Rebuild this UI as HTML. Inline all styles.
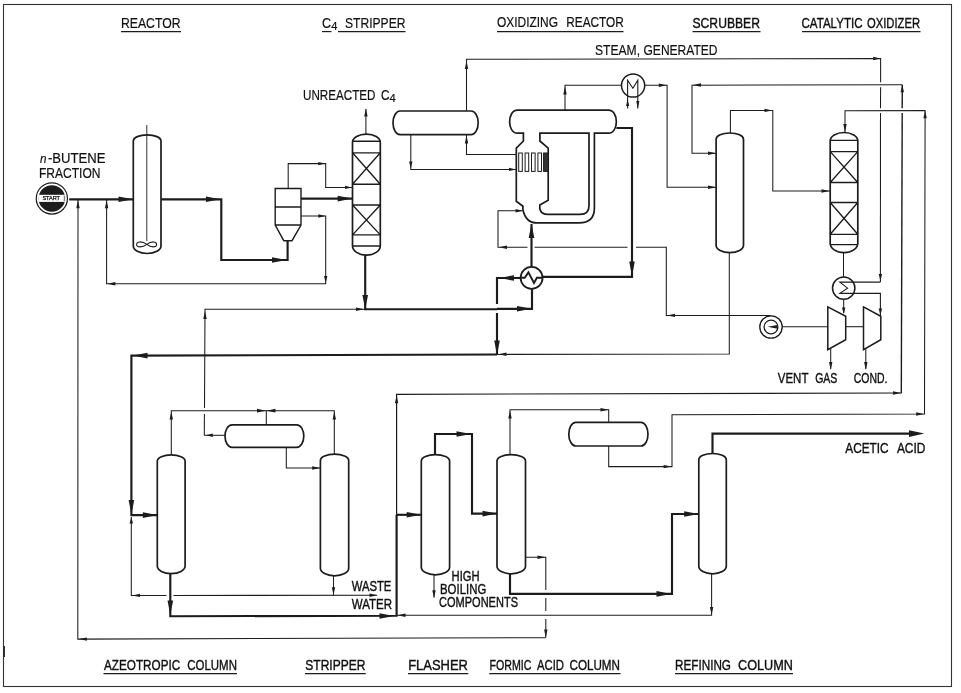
<!DOCTYPE html>
<html lang="en">
<head>
<meta charset="utf-8">
<title>Acetic acid process flow diagram</title>
<style>
html,body{margin:0;padding:0;background:#fff;}
svg{display:block;will-change:transform;filter:grayscale(1);}
svg path,svg circle,svg rect,svg line{stroke:#1c1c1c;fill:none;stroke-linecap:butt;stroke-linejoin:miter;}
svg .ah{fill:#1c1c1c;stroke:none;}
svg .fw{fill:#fff;}
svg .fwn{fill:#fff;stroke:none;}
svg text.b{stroke-width:0.4px;}
svg .fk{fill:#1c1c1c;stroke:none;}
svg .fk2{fill:#333;}
svg text{font-family:"Liberation Sans",sans-serif;fill:#111;stroke:#111;stroke-width:0.2px;}
</style>
</head>
<body>
<svg width="961" height="693" viewBox="0 0 961 693">
<rect x="0" y="0" width="961" height="693" style="fill:#fff;stroke:none"/>
<rect x="3.5" y="4.5" width="948" height="682" style="fill:none;stroke:#333;stroke-width:1.1"/>
<path d="M4.3 646 L4.3 657" stroke-width="1.2"/>
<text x="121" y="28" font-size="14.7" textLength="59.5" lengthAdjust="spacingAndGlyphs" >REACTOR</text>
<path d="M121 31.6 L181 31.6" stroke-width="1.15"/>
<text font-size="14.7"><tspan x="322" y="28" textLength="9" lengthAdjust="spacingAndGlyphs">C</tspan><tspan x="331.2" y="30.2" font-size="11.7" textLength="6.2" lengthAdjust="spacingAndGlyphs">4</tspan> <tspan x="345" y="28" textLength="60.5" lengthAdjust="spacingAndGlyphs">STRIPPER</tspan></text>
<path d="M322 31.6 L331.5 31.6" stroke-width="1.15"/>
<path d="M338 31.6 L405.5 31.6" stroke-width="1.15"/>
<text font-size="14.7"><tspan x="497" y="27.3" textLength="61" lengthAdjust="spacingAndGlyphs">OXIDIZING</tspan> <tspan x="566.3" y="27.3" textLength="57.5" lengthAdjust="spacingAndGlyphs">REACTOR</tspan></text>
<path d="M497 31.6 L623.5 31.6" stroke-width="1.15"/>
<text class="b" x="692.5" y="27.6" font-size="14.7" textLength="67.5" lengthAdjust="spacingAndGlyphs" >SCRUBBER</text>
<path d="M692.5 31.6 L760.5 31.6" stroke-width="1.15"/>
<text class="b" font-size="14.7"><tspan x="801.5" y="27.6" textLength="61" lengthAdjust="spacingAndGlyphs">CATALYTIC</tspan> <tspan x="867" y="27.6" textLength="53" lengthAdjust="spacingAndGlyphs">OXIDIZER</tspan></text>
<path d="M802 31.6 L920.5 31.6" stroke-width="1.15"/>
<text font-size="14.7"><tspan x="595" y="55" textLength="45" lengthAdjust="spacingAndGlyphs">STEAM,</tspan> <tspan x="643.5" y="55" textLength="74" lengthAdjust="spacingAndGlyphs">GENERATED</tspan></text>
<text font-size="14.7"><tspan x="303" y="100" textLength="72.5" lengthAdjust="spacingAndGlyphs">UNREACTED</tspan> <tspan x="381" y="100" textLength="8.5" lengthAdjust="spacingAndGlyphs">C</tspan><tspan x="389.6" y="102.2" font-size="11.7" textLength="6.2" lengthAdjust="spacingAndGlyphs">4</tspan></text>
<text font-size="14.7"><tspan x="40" y="162.5" font-style="italic" font-size="12" textLength="6.5" lengthAdjust="spacingAndGlyphs">n</tspan><tspan x="48" y="162.5" textLength="57.5" lengthAdjust="spacingAndGlyphs">-BUTENE</tspan> <tspan x="39" y="177.6" textLength="61.5" lengthAdjust="spacingAndGlyphs">FRACTION</tspan></text>
<text class="b" font-size="14.7"><tspan x="777.8" y="382.6" textLength="30.4" lengthAdjust="spacingAndGlyphs">VENT</tspan> <tspan x="815.2" y="382.6" textLength="22.2" lengthAdjust="spacingAndGlyphs">GAS</tspan></text>
<text class="b" x="853.8" y="382.6" font-size="14.7" textLength="33.6" lengthAdjust="spacingAndGlyphs" >COND.</text>
<text class="b" font-size="15.2"><tspan x="845.3" y="453.3" textLength="43.3" lengthAdjust="spacingAndGlyphs">ACETIC</tspan> <tspan x="896.9" y="453.3" textLength="28.5" lengthAdjust="spacingAndGlyphs">ACID</tspan></text>
<text class="b" font-size="14.7"><tspan x="351.7" y="591.3" textLength="39.7" lengthAdjust="spacingAndGlyphs">WASTE</tspan> <tspan x="351.7" y="609.4" textLength="40.3" lengthAdjust="spacingAndGlyphs">WATER</tspan></text>
<text class="b" font-size="14.7"><tspan x="451.6" y="581.3" textLength="28" lengthAdjust="spacingAndGlyphs">HIGH</tspan> <tspan x="440" y="594.3" textLength="46.3" lengthAdjust="spacingAndGlyphs">BOILING</tspan> <tspan x="439" y="607" textLength="79" lengthAdjust="spacingAndGlyphs">COMPONENTS</tspan></text>
<text class="b" font-size="14.7"><tspan x="104" y="669.7" textLength="76.2" lengthAdjust="spacingAndGlyphs">AZEOTROPIC</tspan> <tspan x="187.3" y="669.7" textLength="49.6" lengthAdjust="spacingAndGlyphs">COLUMN</tspan></text>
<path d="M103.5 673.6 L237 673.6" stroke-width="1.15"/>
<text class="b" x="305.3" y="669.7" font-size="14.7" textLength="60.2" lengthAdjust="spacingAndGlyphs" >STRIPPER</text>
<path d="M305 673.6 L365.8 673.6" stroke-width="1.15"/>
<text class="b" x="408.2" y="669.7" font-size="14.7" textLength="59.8" lengthAdjust="spacingAndGlyphs" >FLASHER</text>
<path d="M408 673.6 L468.3 673.6" stroke-width="1.15"/>
<text class="b" font-size="14.7"><tspan x="489.5" y="669.7" textLength="42" lengthAdjust="spacingAndGlyphs">FORMIC</tspan> <tspan x="537" y="669.7" textLength="27" lengthAdjust="spacingAndGlyphs">ACID</tspan> <tspan x="569.5" y="669.7" textLength="50.5" lengthAdjust="spacingAndGlyphs">COLUMN</tspan></text>
<path d="M489.3 673.6 L620.5 673.6" stroke-width="1.15"/>
<text class="b" font-size="14.7"><tspan x="675" y="669.7" textLength="56" lengthAdjust="spacingAndGlyphs">REFINING</tspan> <tspan x="738" y="669.7" textLength="54.8" lengthAdjust="spacingAndGlyphs">COLUMN</tspan></text>
<path d="M675 673.6 L793 673.6" stroke-width="1.15"/>
<circle cx="51.85" cy="198.45" r="15.6" class="fw" stroke-width="1.2"/>
<circle cx="51.85" cy="198.45" r="13.3" class="fk"/>
<rect x="38.4" y="194.8" width="26.9" height="7.1" class="fwn"/>
<path d="M64.3 195.6 L64.3 201.2" stroke-width="0.7"/>
<text x="42.4" y="200.45" font-size="5.6" textLength="17.6" lengthAdjust="spacing" style="stroke-width:0.25px">START</text>
<path d="M133.3 141 A13.85 6.2 0 0 1 161 141 L161 246 A13.85 7.5 0 0 1 133.3 246 Z" stroke-width="1.7" class="fw"/>
<path d="M146.8 125 L146.8 241" stroke-width="0.9" />
<path d="M146.8 244.4 C142.5 241 136.6 241.2 136.6 244.4 C136.6 247.6 142.5 247.8 146.8 244.4 C151.1 241 156.6 241.2 156.6 244.4 C156.6 247.6 151.1 247.8 146.8 244.4 Z" stroke-width="1.1"/>
<path d="M69.2 199.3 L133.3 199.3" stroke-width="2.15" />
<polygon class="ah" points="133,199.3 118.5,196.5 118.5,202.1"/>
<path d="M161.2 199.3 L221.3 199.3 L221.3 260 L287.6 260 L287.6 240.7" stroke-width="2.15" />
<polygon class="ah" points="220.5,199.3 206,196.5 206,202.1"/>
<polygon class="ah" points="286.5,260 272,257.2 272,262.8"/>
<path d="M78 199.3 L77.8 639.1 L545.8 637.7" stroke-width="1.05" />
<polygon class="ah" points="78,200.3 76.3,208.3 79.7,208.3"/>
<polygon class="ah" points="78.8,639.1 86.8,637.4 86.8,640.8"/>
<path d="M106.6 199.3 L106.6 283.8 L325.7 283.8 L325.7 216 L301 216" stroke-width="1.05" />
<polygon class="ah" points="106.6,200.3 104.9,208.3 108.3,208.3"/>
<polygon class="ah" points="107.3,283.8 115.3,282.1 115.3,285.5"/>
<polygon class="ah" points="325.7,283 324,276 327.4,276"/>
<polygon class="ah" points="325.3,216 318.3,214.3 318.3,217.7"/>
<path d="M275.2 188.5 L301 188.5 L301 225 L292 240.7 L283.8 240.7 L275.2 225 Z M275.2 207 L301 207 M275.2 225 L301 225" stroke-width="1.4" class="fw"/>
<path d="M288.2 188.5 L288.2 163.6 L325.7 163.6 L325.7 187.4 L352.4 187.4" stroke-width="1.05" />
<polygon class="ah" points="325.3,163.6 318.3,161.9 318.3,165.3"/>
<polygon class="ah" points="352,187.4 345,185.7 345,189.1"/>
<path d="M301 198.6 L352.4 198.6" stroke-width="2.15" />
<polygon class="ah" points="352.2,198.6 337.7,195.8 337.7,201.4"/>
<path d="M352.5 142.3 A13.9 8.2 0 0 1 380.3 142.3 L380.3 245.7 A13.9 9.5 0 0 1 352.5 245.7 Z" stroke-width="1.7" class="fw"/>
<path d="M352.5 141.2 L380.3 141.2 M352.5 152.8 L380.3 152.8 M352.5 184.2 L380.3 184.2 M352.5 205 L380.3 205 M352.5 234.9 L380.3 234.9 M352.5 246 L380.3 246 M352.5 152.8 L380.3 184.2 M380.3 152.8 L352.5 184.2 M352.5 205 L380.3 234.9 M380.3 205 L352.5 234.9 " stroke-width="1.35"/>
<path d="M365.9 134.1 L365.9 109" stroke-width="1.05" />
<polygon class="ah" points="365.9,108.5 364.2,116.5 367.6,116.5"/>
<path d="M365.2 255.2 L365.2 309.2" stroke-width="2.15" />
<polygon class="ah" points="365.2,309.5 362.4,295 368,295"/>
<path d="M204.3 435.3 L204.4 414" stroke-width="1.05" />
<path d="M204.5 408 L205 309.2 L365 309.2" stroke-width="1.05" />
<polygon class="ah" points="205,311 203.3,319 206.7,319"/>
<polygon class="ah" points="364,309.2 356,307.5 356,310.9"/>
<path d="M364 309.2 L497 309.2" stroke-width="2.15" />
<path d="M497 308.8 L532 308.8 L532 289.2" stroke-width="2.15" />
<polygon class="ah" points="531.5,308.8 517,306 517,311.6"/>
<path d="M225 435.3 L204.3 435.3" stroke-width="1.05" />
<polygon class="ah" points="205.8,435.3 212.8,433.6 212.8,437"/>
<path d="M400 111 L471.2 111 A7 11.8 0 0 1 471.2 134.6 L400 134.6 A7 11.8 0 0 1 400 111 Z" stroke-width="1.7" class="fw"/>
<path d="M466.5 111 L466.5 59.3 L880.6 58.5 L880.6 82.3" stroke-width="1.05" />
<path d="M880.6 87.3 L880.5 108.3" stroke-width="1.05" />
<path d="M880.5 113 L880.4 282.1" stroke-width="1.05" />
<polygon class="ah" points="466.5,61 464.8,69 468.2,69"/>
<polygon class="ah" points="880.2,58.5 873.2,56.8 873.2,60.2"/>
<polygon class="ah" points="880.4,281 878.7,274 882.1,274"/>
<path d="M410.8 134.6 L410.8 169.4 L516 169.4" stroke-width="1.05" />
<polygon class="ah" points="410.8,168.5 409.1,161.5 412.5,161.5"/>
<polygon class="ah" points="516,169.4 509,167.7 509,171.1"/>
<path d="M516 154.4 L466.5 154.4 L466.5 134.6" stroke-width="1.05" />
<polygon class="ah" points="466.5,135.5 464.8,143.5 468.2,143.5"/>
<path d="M517.5 110.1 L608.4 110.1 C619 110.1 619 133.2 608.4 133.2 L594.4 133.2 L594.4 208 C594.4 218 589 222.9 579 222.9 L537 222.9 C529 222.9 524.5 217 522.9 209.7 L522.9 206.2 L516.3 201.3 L516.3 148.2 L523.4 141 L523.4 133.2 L517.5 133.2 C507 133.2 507 110.1 517.5 110.1 Z" stroke-width="1.7" class="fw"/>
<path d="M539.9 133.2 L589 133.2 L589 206 C589 211.5 586 214.4 580 214.4 L548 214.4 C543.5 214.4 540.5 212 539.8 208.7 L539.8 205 L548.2 200.3 L548.2 148.2 L539.9 141 Z" stroke-width="1.7" class="fw"/>
<rect x="518.7" y="153" width="3.6" height="18.4" stroke-width="1" class="fw"/>
<rect x="525.1" y="153" width="3.6" height="18.4" stroke-width="1" class="fw"/>
<rect x="531.5" y="153" width="3.6" height="18.4" stroke-width="1" class="fw"/>
<rect x="537.9" y="153" width="3.6" height="18.4" stroke-width="1" class="fw"/>
<rect x="543.6" y="153" width="4.8" height="18.4" stroke-width="1" class="fk2"/>
<path d="M565 110.1 L565 85.2 L621.6 85.2" stroke-width="1.05" />
<polygon class="ah" points="565,86.5 563.3,94.5 566.7,94.5"/>
<circle cx="633.1" cy="85.5" r="11.6" stroke-width="1.5" class="fw"/>
<path d="M627.6 108.4 L627.6 80.3 L632.9 88.2 L637.8 80.3 L637.8 108.4" stroke-width="1.1" />
<polygon class="ah" points="627.6,99.5 626,106 629.2,106"/>
<polygon class="ah" points="637.8,108.6 636.2,101.1 639.4,101.1"/>
<path d="M644.7 85.2 L667.1 85.2 L667.1 187.2 L716.2 187.2" stroke-width="1.05" />
<polygon class="ah" points="666.8,85.2 658.8,83.5 658.8,86.9"/>
<polygon class="ah" points="716,187.2 708,185.5 708,188.9"/>
<path d="M616.4 128 L632 128 L632 276.8 L543 276.8" stroke-width="2.15" />
<polygon class="ah" points="632,276 629.2,261.5 634.8,261.5"/>
<path d="M522.4 210.8 L498 210.8 L498 247.3 L527.5 247.3" stroke-width="1.05" />
<path d="M534.5 247.3 L627.5 247.3" stroke-width="1.05" />
<path d="M636 247.3 L666.3 247.3 L666.3 315.4 L771 315.4" stroke-width="1.05" />
<polygon class="ah" points="522.6,210.8 515.6,209.1 515.6,212.5"/>
<polygon class="ah" points="499,247.3 507,245.6 507,249"/>
<polygon class="ah" points="667,315.4 675,313.7 675,317.1"/>
<path d="M531.5 266.8 L531.5 224" stroke-width="2.15" />
<polygon class="ah" points="531.5,223.6 528.7,238.1 534.3,238.1"/>
<circle cx="531.6" cy="277.8" r="11" stroke-width="1.8" class="fw"/>
<path d="M520.7 277.8 L524.7 277.8 L528.4 272.4 L534 283 L536.9 277.8 L542.6 277.8" stroke-width="1.9" />
<path d="M520.5 278 L497 278 L497 304" stroke-width="2.15" />
<path d="M497 313 L497 354.3" stroke-width="2.15" />
<polygon class="ah" points="499.5,278 514,275.2 514,280.8"/>
<polygon class="ah" points="497,355 494.2,340.5 499.8,340.5"/>
<path d="M716.1 139.2 A13.7 6.2 0 0 1 743.5 139.2 L743.5 245.2 A13.7 7.5 0 0 1 716.1 245.2 Z" stroke-width="1.7" class="fw"/>
<path d="M730.4 133 L730.4 110.4 L772.8 110.4 L772.8 191 L830.2 191" stroke-width="1.05" />
<polygon class="ah" points="772.5,110.4 764.5,108.7 764.5,112.1"/>
<polygon class="ah" points="829.5,191 821.5,189.3 821.5,192.7"/>
<path d="M716.2 153.3 L692 153.3 L692 85.2 L902.3 84.8" stroke-width="1.05" />
<polygon class="ah" points="716,153.3 708,151.6 708,155"/>
<polygon class="ah" points="693,85 701,83.3 701,86.7"/>
<path d="M729.3 252.7 L729.3 354 L497 354.4" stroke-width="1.05" />
<polygon class="ah" points="498.5,354.3 506.5,352.6 506.5,356"/>
<path d="M497 354.5 L131.4 355.6 L131.4 515.1 L157.4 515.1" stroke-width="2.15" />
<polygon class="ah" points="133,355.6 147.5,352.8 147.5,358.4"/>
<polygon class="ah" points="131.4,514.6 128.6,500.1 134.2,500.1"/>
<polygon class="ah" points="157.3,515.1 142.8,512.3 142.8,517.9"/>
<path d="M830.2 140.7 A13.8 8.2 0 0 1 857.8 140.7 L857.8 243.2 A13.8 9.5 0 0 1 830.2 243.2 Z" stroke-width="1.7" class="fw"/>
<path d="M830.2 140.4 L857.8 140.4 M830.2 151.6 L857.8 151.6 M830.2 182.5 L857.8 182.5 M830.2 202.5 L857.8 202.5 M830.2 234.3 L857.8 234.3 M830.2 244.6 L857.8 244.6 M830.2 151.6 L857.8 182.5 M857.8 151.6 L830.2 182.5 M830.2 202.5 L857.8 234.3 M857.8 202.5 L830.2 234.3 " stroke-width="1.35"/>
<path d="M845 132.5 L845 110.7 L925.1 110.5 L924.5 414 L672 414.7 L672 466.6 L608.7 466.6 L608.7 446" stroke-width="1.05" />
<polygon class="ah" points="845,132 843.3,124 846.7,124"/>
<polygon class="ah" points="925.1,110.7 923.4,118.2 926.8,118.2"/>
<polygon class="ah" points="924.2,414 916.2,412.3 916.2,415.7"/>
<polygon class="ah" points="671.6,466.6 663.6,464.9 663.6,468.3"/>
<path d="M843.5 252.6 L843.5 277" stroke-width="1.05" />
<circle cx="843.7" cy="288.1" r="11.2" stroke-width="1.5" class="fw"/>
<path d="M880.4 282.1 L839.8 282.1 L847.6 288.1 L839.8 293.4 L880.4 293.4 L880.4 316.3" stroke-width="1.1" />
<polygon class="ah" points="880.4,315 878.7,308.5 882.1,308.5"/>
<path d="M843.7 299.3 L843.7 313" stroke-width="1.05" />
<polygon class="ah" points="843.7,314 842,307.5 845.4,307.5"/>
<path d="M827.8 306.9 L845.7 316.3 L845.7 339.7 L827.8 349.7 Z M863.5 306.9 L880.8 316.3 L880.8 339.7 L863.5 349.7 Z" stroke-width="1.5" class="fw"/>
<path d="M771 326.7 L827.8 326.7" stroke-width="1.05" />
<path d="M845.7 326.7 L863.5 326.7" stroke-width="1.05" />
<path d="M830.7 348.2 L830.7 369" stroke-width="1.05" />
<polygon class="ah" points="830.7,370 829,362 832.4,362"/>
<path d="M865.8 348.2 L865.8 369" stroke-width="1.05" />
<polygon class="ah" points="865.8,370 864.1,362 867.5,362"/>
<circle cx="771" cy="327" r="11.2" stroke-width="1.3" class="fw"/><circle cx="771" cy="327" r="6.9" stroke-width="1.3" class="fw"/>
<polygon class="ah" points="767.5,326.8 777.5,324.9 777.5,328.7"/>
<path d="M902.3 84.8 L902.2 108.3" stroke-width="1.4" />
<path d="M902.2 113 L901.3 393.2" stroke-width="1.4" />
<path d="M901.3 393 L396.6 394.3 L396.6 516" stroke-width="1.2" />
<polygon class="ah" points="902.3,84.8 900.6,92.3 904,92.3"/>
<polygon class="ah" points="901,393 893,391.3 893,394.7"/>
<polygon class="ah" points="396.6,395.2 394.9,403.2 398.3,403.2"/>
<path d="M157.3 461.1 A13.9 6.2 0 0 1 185.1 461.1 L185.1 566.1 A13.9 7.5 0 0 1 157.3 566.1 Z" stroke-width="1.7" class="fw"/>
<path d="M171.3 454.7 L171.3 410.7 L334.3 410.7 L334.3 454" stroke-width="1.05" />
<polygon class="ah" points="171.3,411.5 169.6,419.5 173,419.5"/>
<polygon class="ah" points="334.3,411.5 332.6,419.5 336,419.5"/>
<polygon class="ah" points="266,410.7 257,408.8 257,412.6"/>
<polygon class="ah" points="266.5,410.7 275.5,408.8 275.5,412.6"/>
<path d="M266.3 410.7 L266.3 424.8" stroke-width="1.05" />
<path d="M232 424.8 L296.8 424.8 A7 11.25 0 0 1 296.8 447.3 L232 447.3 A7 11.25 0 0 1 232 424.8 Z" stroke-width="1.7" class="fw"/>
<path d="M286.3 447.3 L286.3 468 L320.4 468" stroke-width="1.05" />
<polygon class="ah" points="320.2,468 312.2,466.3 312.2,469.7"/>
<path d="M320.4 460.4 A14.15 6.2 0 0 1 348.7 460.4 L348.7 568.3 A14.15 7.5 0 0 1 320.4 568.3 Z" stroke-width="1.7" class="fw"/>
<path d="M333.5 575.8 L333.5 595.3" stroke-width="1.05" />
<polygon class="ah" points="333.5,595.3 331.8,587.3 335.2,587.3"/>
<path d="M131.3 517 L131.3 595.4 L166.5 595.4" stroke-width="1.05" />
<path d="M173.5 595.4 L377 595.3" stroke-width="1.05" />
<polygon class="ah" points="131.3,517 129.6,523.5 133,523.5"/>
<polygon class="ah" points="132,595.4 140,593.7 140,597.1"/>
<polygon class="ah" points="377.5,595.3 369.5,593.6 369.5,597"/>
<path d="M170.3 573.6 L170.3 616.2 L396.6 615.8 L396.6 514.8" stroke-width="2.15" />
<polygon class="ah" points="170.3,615 167.5,600.5 173.1,600.5"/>
<polygon class="ah" points="394,616 379.5,613.2 379.5,618.8"/>
<path d="M396.6 514.8 L421.3 514.8" stroke-width="2.15" />
<polygon class="ah" points="421.2,514.8 406.7,512 406.7,517.6"/>
<path d="M396.6 615.3 L711.6 615.3 L711.6 573.7" stroke-width="1.05" />
<polygon class="ah" points="397.5,615.3 405.5,613.6 405.5,617"/>
<polygon class="ah" points="711.6,615 709.9,607 713.3,607"/>
<path d="M421.3 460.9 A14.15 6.2 0 0 1 449.6 460.9 L449.6 567.3 A14.15 7.5 0 0 1 421.3 567.3 Z" stroke-width="1.7" class="fw"/>
<path d="M435 454.7 L435 434 L472 434 L472 513.6 L497 513.6" stroke-width="2.15" />
<polygon class="ah" points="471,434 456.5,431.2 456.5,436.8"/>
<polygon class="ah" points="497,513.6 482.5,510.8 482.5,516.4"/>
<path d="M434 574.8 L434 597.5" stroke-width="1.05" />
<polygon class="ah" points="434,598.3 432.3,590.3 435.7,590.3"/>
<path d="M497 460.9 A14.25 6.2 0 0 1 525.5 460.9 L525.5 566.3 A14.25 7.5 0 0 1 497 566.3 Z" stroke-width="1.7" class="fw"/>
<path d="M510 454.7 L510 409.8 L608.7 409.8 L608.7 422.3" stroke-width="1.05" />
<polygon class="ah" points="510,410.5 508.3,418.5 511.7,418.5"/>
<polygon class="ah" points="608.5,409.8 600.5,408.1 600.5,411.5"/>
<path d="M575.8 422.3 L641 422.3 A7 11.85 0 0 1 641 446 L575.8 446 A7 11.85 0 0 1 575.8 422.3 Z" stroke-width="1.7" class="fw"/>
<path d="M525.5 557.2 L545.8 557.2 L545.8 590" stroke-width="1.05" />
<path d="M545.8 598 L545.8 611" stroke-width="1.05" />
<path d="M545.8 619 L545.8 637.7" stroke-width="1.05" />
<polygon class="ah" points="545.5,557.2 537.5,555.5 537.5,558.9"/>
<polygon class="ah" points="545.8,637.4 544.1,629.4 547.5,629.4"/>
<path d="M510 573.8 L510 593.9 L672 593.9 L672 514 L698.8 514" stroke-width="2.15" />
<polygon class="ah" points="671,593.9 656.5,591.1 656.5,596.7"/>
<polygon class="ah" points="698.7,514 684.2,511.2 684.2,516.8"/>
<path d="M698.8 459.7 A13.75 6.2 0 0 1 726.3 459.7 L726.3 566.3 A13.75 7.5 0 0 1 698.8 566.3 Z" stroke-width="1.7" class="fw"/>
<path d="M712.5 453.5 L712.5 433.6 L916 433.6" stroke-width="2.15" />
<polygon class="ah" points="924.4,433.6 909,430.2 909,437"/>
</svg>
</body>
</html>
